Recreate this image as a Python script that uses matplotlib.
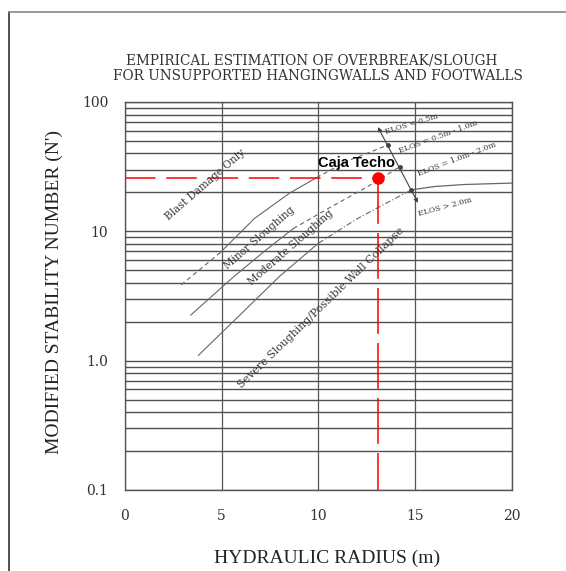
import matplotlib
matplotlib.use('Agg')
import matplotlib.pyplot as plt
from matplotlib.lines import Line2D
from matplotlib.ticker import LogLocator, NullFormatter, FixedLocator, FixedFormatter

# datos (radio hidraulico, numero de estabilidad N')
blast_hr = [2.9, 4.9, 6.7, 8.5, 9.9, 11.5, 13.6]
blast_n = [3.85, 6.8, 12.6, 19.7, 26.0, 35.0, 46.5]
minor_hr = [3.4, 5.5, 7.2, 8.7, 10.5, 12.5, 14.2]
minor_n = [2.25, 4.3, 7.0, 10.5, 15.0, 22.0, 31.5]
moder_hr = [3.8, 6.0, 8.0, 10.0, 12.0, 13.5, 14.8, 16.0, 17.5, 20.0]
moder_n = [1.1, 2.3, 4.5, 8.1, 12.5, 16.5, 20.9, 22.2, 23.0, 23.6]

# linea ELOS (inicio, fin)
elos_hr = [13.07, 15.14]
elos_n = [64.0, 16.6]

# punto de diseno
caja_hr = 13.1
caja_n = 26.0

x_ticks = [0, 5, 10, 15, 20]
y_ticks = [0.1, 1, 10, 100]
y_labels = ['0.1', '1.0', '10', '100']

fig = plt.figure(figsize=(5.66, 5.71), dpi=100)
ax = fig.add_axes([0.2208, 0.1419, 0.6837, 0.6795])
ax.set_yscale('log')
ax.set_xlim(0, 20)
ax.set_ylim(0.1, 100)

ax.yaxis.set_major_locator(FixedLocator(y_ticks))
ax.yaxis.set_major_formatter(FixedFormatter(y_labels))
ax.yaxis.set_minor_locator(LogLocator(base=10, subs=range(2, 10)))
ax.yaxis.set_minor_formatter(NullFormatter())
ax.set_xticks(x_ticks)
ax.tick_params(which='both', length=0)
ax.tick_params(axis='y', pad=12)
ax.tick_params(axis='x', pad=14)
for lab in ax.get_xticklabels() + ax.get_yticklabels():
    lab.set_fontfamily('DejaVu Serif')
    lab.set_fontsize(10)
    lab.set_color('#333333')

ax.yaxis.grid(True, which='both', color='#505050', lw=1.0)
ax.xaxis.grid(True, which='major', color='#555555', lw=0.9)
for s in ax.spines.values():
    s.set_color('#555555')
    s.set_linewidth(1.0)

# curvas: tramo continuo al medio, segmentado en los extremos
gc = '#666666'
ax.plot(blast_hr[:2], blast_n[:2], color=gc, lw=0.8, dashes=(4, 3))
ax.plot(blast_hr[1:5], blast_n[1:5], color=gc, lw=0.8)
ax.plot(blast_hr[4:], blast_n[4:], color=gc, lw=0.8, dashes=(4, 3))
ax.plot(minor_hr[:4], minor_n[:4], color=gc, lw=0.8)
ax.plot(minor_hr[3:], minor_n[3:], color=gc, lw=0.8, dashes=(4, 3))
ax.plot(moder_hr[:4], moder_n[:4], color=gc, lw=0.8)
ax.plot(moder_hr[3:7], moder_n[3:7], color=gc, lw=0.8, dashes=(5, 2, 1, 2))
ax.plot(moder_hr[6:], moder_n[6:], color=gc, lw=0.9)

ax.annotate('', xy=(elos_hr[1], elos_n[1]), xytext=(elos_hr[0], elos_n[0]),
            arrowprops=dict(arrowstyle='<|-|>', color='#444444', lw=0.8,
                            mutation_scale=6, shrinkA=0, shrinkB=0))
ax.plot([blast_hr[-1], minor_hr[-1], moder_hr[6]],
        [blast_n[-1], minor_n[-1], moder_n[6]], 'o', color='#444444', ms=2.5)

zf = 'DejaVu Serif'
zc = '#3a3a3a'
ax.text(4.13, 22.9, 'Blast Damage Only', rotation=41, ha='center', va='center',
        rotation_mode='anchor', fontsize=7.6, family=zf, color=zc)
ax.text(6.93, 8.9, 'Minor Sloughing', rotation=41, ha='center', va='center',
        rotation_mode='anchor', fontsize=7.6, family=zf, color=zc)
ax.text(8.58, 7.45, 'Moderate Sloughing', rotation=41, ha='center', va='center',
        rotation_mode='anchor', fontsize=7.6, family=zf, color=zc)
ax.text(10.13, 2.56, 'Severe Sloughing/Possible Wall Collapse', rotation=44,
        ha='center', va='center', rotation_mode='anchor', fontsize=7.9,
        family=zf, color=zc)
ax.text(14.82, 67.5, 'ELOS < 0.5m', rotation=17, ha='center', va='center',
        rotation_mode='anchor', fontsize=5.8, family=zf, color=zc)
ax.text(16.19, 54, 'ELOS = 0.5m - 1.0m', rotation=20, ha='center', va='center',
        rotation_mode='anchor', fontsize=5.8, family=zf, color=zc)
ax.text(17.14, 36.2, 'ELOS = 1.0m - 2.0m', rotation=21, ha='center', va='center',
        rotation_mode='anchor', fontsize=5.8, family=zf, color=zc)
ax.text(16.54, 15.5, 'ELOS > 2.0m', rotation=15, ha='center', va='center',
        rotation_mode='anchor', fontsize=5.8, family=zf, color=zc)

# punto Caja Techo
ax.plot([0, caja_hr], [caja_n, caja_n], color='red', lw=1.1, dashes=(20, 7))
ax.plot([caja_hr, caja_hr], [caja_n, 0.1], color='red', lw=1.1, dashes=(30, 6))
ax.plot([caja_hr], [caja_n], 'o', color='red', ms=8, zorder=5)
ax.text(11.97, 33.6, 'Caja Techo', ha='center', va='center', fontsize=10.5,
        fontweight='bold', family='Liberation Sans', color='black')

ax.set_xlabel('HYDRAULIC RADIUS (m)', family='Liberation Serif', fontsize=14,
              color='#222222')
ax.xaxis.set_label_coords(0.522, -0.155)
ax.set_ylabel("MODIFIED STABILITY NUMBER (N')", family='Liberation Serif',
              fontsize=14, color='#222222')
ax.yaxis.set_label_coords(-0.16, 0.51)

fig.text(0.55, 1 - 60.7 / 571, 'EMPIRICAL ESTIMATION OF OVERBREAK/SLOUGH',
         ha='center', va='center', family='DejaVu Serif', fontsize=9.8,
         color='#333333')
fig.text(0.561, 1 - 75.5 / 571, 'FOR UNSUPPORTED HANGINGWALLS AND FOOTWALLS',
         ha='center', va='center', family='DejaVu Serif', fontsize=9.8,
         color='#333333')

# marco del escaneo
fig.add_artist(Line2D([0.0159, 0.0159], [0, 1 - 12 / 571], color='#333333', lw=1.2))
fig.add_artist(Line2D([0.0159, 1], [1 - 12 / 571, 1 - 12 / 571], color='#888888', lw=1.2))

fig.savefig('out.png', dpi=100)
